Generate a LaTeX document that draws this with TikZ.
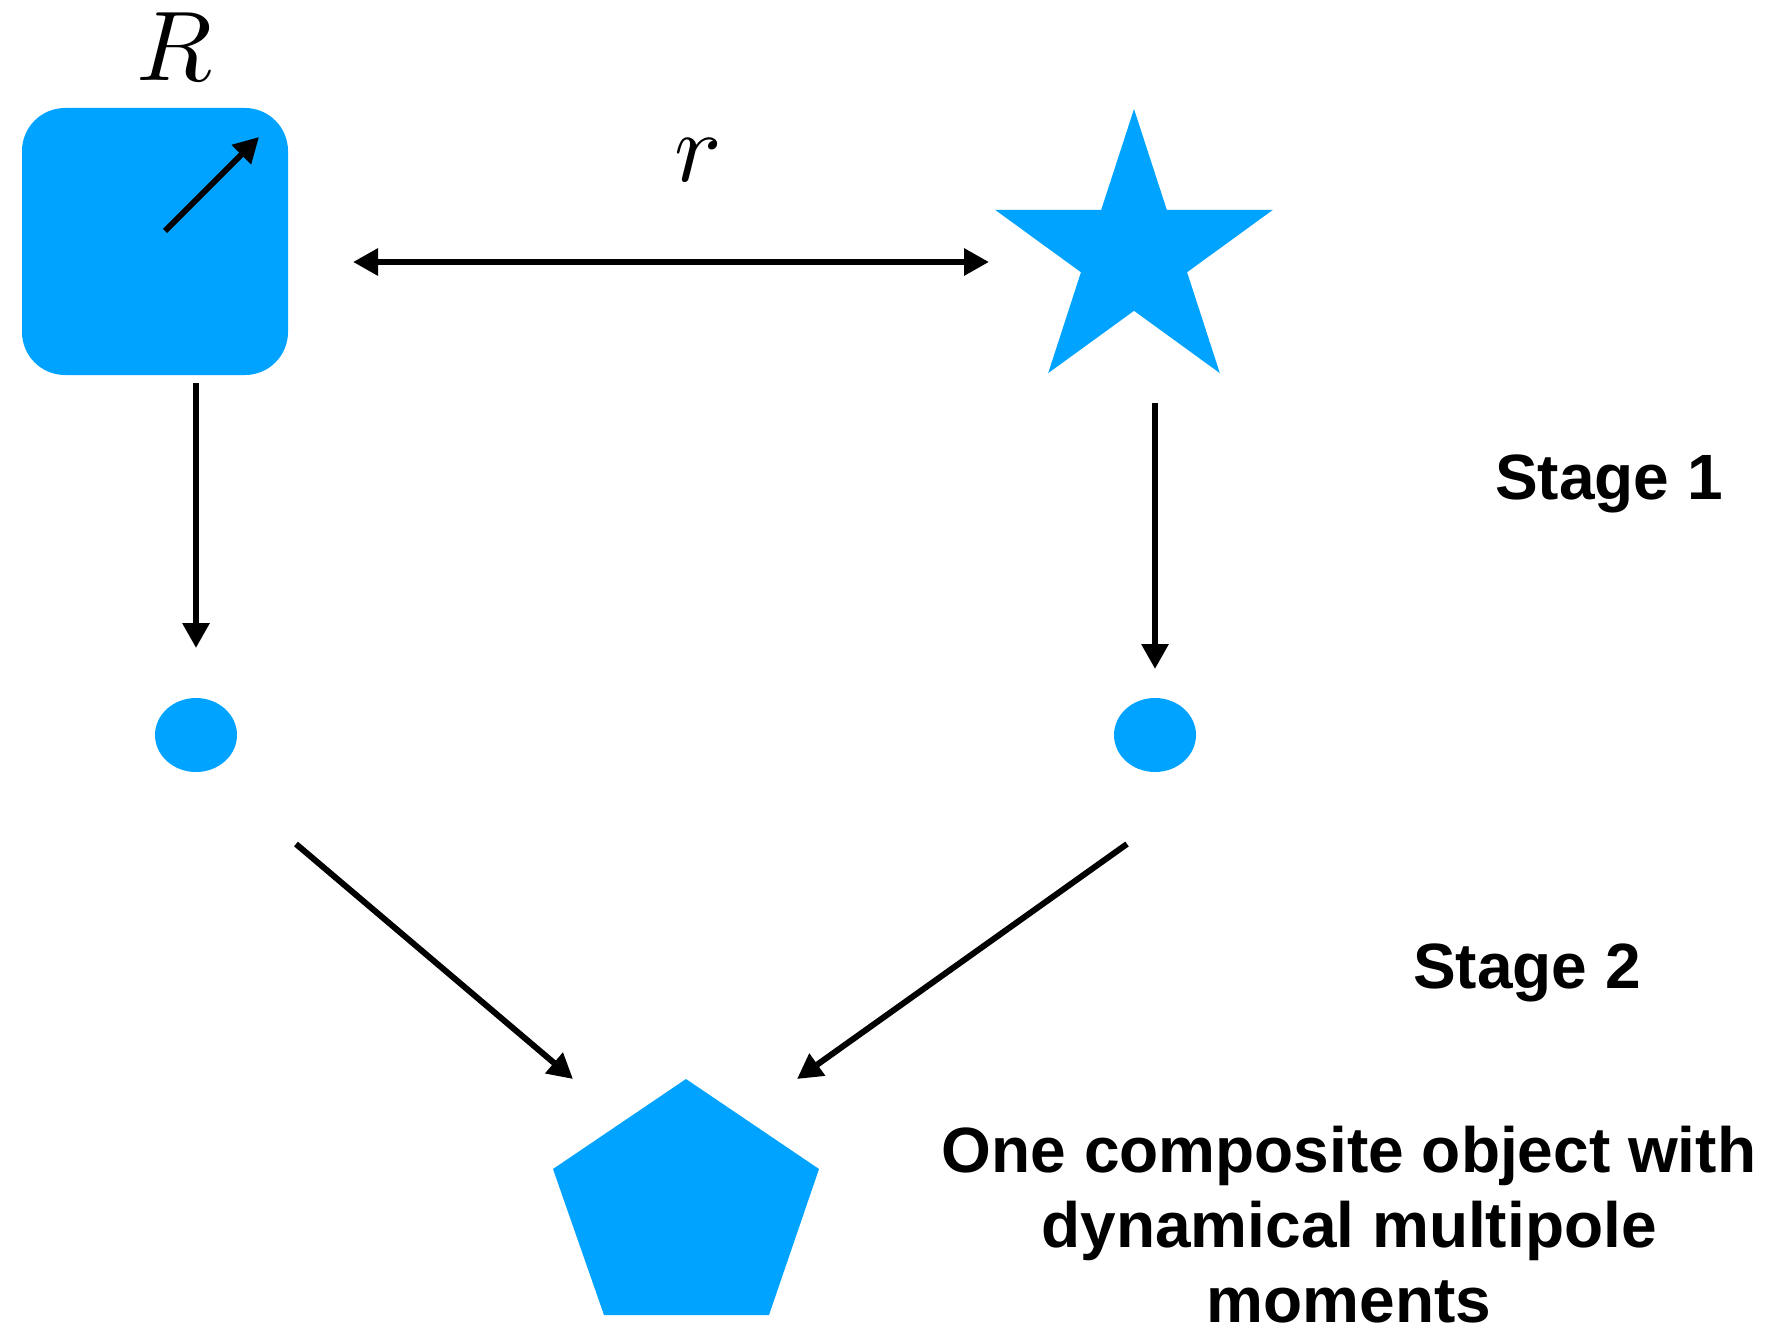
\documentclass[tikz,border=0pt]{standalone}
\usepackage{fontspec}
% scalable math italic so that large symbols keep their size
\DeclareFontShape{OML}{cmm}{m}{it}{<->cmmi10}{}
\newfontfamily\labelfont{Liberation Sans}
\usetikzlibrary{arrows.meta,shapes.geometric}
\definecolor{shapeblue}{RGB}{0,163,255}
\begin{document}
\begin{tikzpicture}[x=1pt,y=1pt,
  solid shape/.style={fill=shapeblue,draw=none},
  link/.style={line width=6pt,-{Triangle[length=25pt,width=26pt]}},
  twoway/.style={line width=6pt,{Triangle[length=25pt,width=26pt]}-{Triangle[length=25pt,width=26pt]}},
  stagelabel/.style={font=\labelfont\bfseries\fontsize{64}{75}\selectfont,inner sep=0pt},
  mathlabel/.style={font=\fontsize{99}{99}\selectfont,inner sep=0pt}]
\useasboundingbox (0,0) rectangle (1776,-1327);

% the two bodies
\node[solid shape,rectangle,rounded corners=43pt,minimum width=266pt,minimum height=267pt,inner sep=0pt] (body1) at (155,-241.5) {};
\coordinate (body2) at (1134,-255);
\fill[solid shape] (body2) +(90:146) -- +(126:55.8) -- +(162:146) -- +(198:55.8)
  -- +(234:146) -- +(270:55.8) -- +(306:146) -- +(342:55.8) -- +(18:146) -- +(54:55.8) -- cycle;

% the reduced point objects
\node[solid shape,ellipse,minimum width=82pt,minimum height=74pt,inner sep=0pt] (pt1) at (196,-735) {};
\node[solid shape,ellipse,minimum width=82pt,minimum height=74pt,inner sep=0pt] (pt2) at (1155,-735) {};

% the composite object
\coordinate (comp) at (686,-1210);
\fill[solid shape] (686,-1079) -- (819,-1169) -- (769,-1315) -- (604,-1315) -- (553,-1169) -- cycle;

% size of the first body
\coordinate (radA) at (165,-231);
\coordinate (radB) at (259,-137);
\draw[link] (radA) -- (radB);
\node[mathlabel,anchor=base] (Rlab) at (174,-81) {$R$};

% separation
\coordinate (sepA) at (353,-262);
\coordinate (sepB) at (989,-262);
\draw[twoway] (sepA) -- (sepB);
\node[mathlabel,anchor=base] (rlab) at (698,-181) {$r$};

% stage 1
\coordinate (d1a) at (196,-383);
\coordinate (d1b) at (196,-648);
\coordinate (d2a) at (1155,-403);
\coordinate (d2b) at (1155,-669);
\draw[link] (d1a) -- (d1b);
\draw[link] (d2a) -- (d2b);

% stage 2
\coordinate (m1a) at (296,-844);
\coordinate (m1b) at (573,-1079);
\coordinate (m2a) at (1127,-844);
\coordinate (m2b) at (797,-1079);
\draw[link] (m1a) -- (m1b);
\draw[link] (m2a) -- (m2b);

\node[stagelabel,anchor=base west] (s1) at (1495,-499) {Stage 1};
\node[stagelabel,anchor=base west] (s2) at (1413,-988) {Stage 2};
\node[stagelabel,anchor=base,align=center] (result) at (1349,-1322)
  {One composite object with\\dynamical multipole\\moments};
\end{tikzpicture}
\end{document}
